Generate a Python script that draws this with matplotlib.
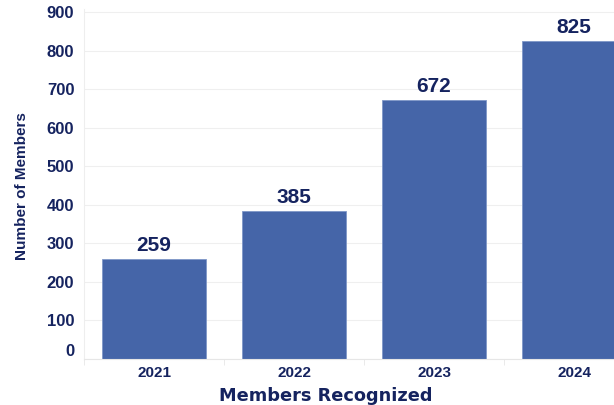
import matplotlib.pyplot as plt
import matplotlib.transforms as mtransforms

years = ["2021", "2022", "2023", "2024"]
members = [259, 385, 672, 825]
yticks = [0, 100, 200, 300, 400, 500, 600, 700, 800, 900]

navy = "#15235f"
bar_color = "#4565a8"
arial = ["Liberation Sans", "DejaVu Sans"]

fig = plt.figure(figsize=(6.14, 4.05), dpi=100)
ax = fig.add_axes([84 / 614, 46 / 405, 560 / 614, 350 / 405])

x = range(len(years))
bars = ax.bar(x, members, width=0.74, color=bar_color, edgecolor="#7f97c8", linewidth=0.6, zorder=2)
for b, v in zip(bars, members):
    ax.text(b.get_x() + b.get_width() / 2, v + 10, str(v), ha="center", va="bottom",
            fontsize=15, fontweight="bold", color=navy, family=arial)

ax.set_xlim(-0.5, 3.5)
ax.set_ylim(0, 900 * 350 / 347)
ax.set_yticks(yticks)
ax.set_yticklabels([str(t) for t in yticks], fontsize=12, fontweight="bold", color=navy, family=arial)
ax.tick_params(axis="y", length=0, pad=7)
ax.set_xticks(list(x))
ax.set_xticklabels(years, fontsize=11, fontweight="bold", color=navy, family=arial)
ax.set_xticks([-0.5, 0.5, 1.5, 2.5, 3.5], minor=True)
ax.tick_params(axis="x", which="major", length=0, pad=5)
ax.tick_params(axis="x", which="minor", length=4, color="#e6e6e6")
ax.grid(axis="y", color="#efefef", linewidth=0.8, zorder=0)

for s in ["top", "right"]:
    ax.spines[s].set_visible(False)
ax.spines["left"].set_color("#eeeeee")
ax.spines["bottom"].set_color("#e6e6e6")

# the "0" label sits a bit above the baseline in the original
lbl0 = ax.get_yticklabels()[0]
lbl0.set_transform(lbl0.get_transform() + mtransforms.ScaledTranslation(0, 9 / 100, fig.dpi_scale_trans))

fig.text(22 / 614, 1 - 186 / 405, "Number of Members", rotation=90, ha="center", va="center",
         fontsize=11, fontweight="bold", color=navy, family=arial)
fig.text(326 / 614, 1 - 396 / 405, "Members Recognized", ha="center", va="center",
         fontsize=12.8, fontweight="bold", color=navy)

fig.savefig("out.png", dpi=100)
